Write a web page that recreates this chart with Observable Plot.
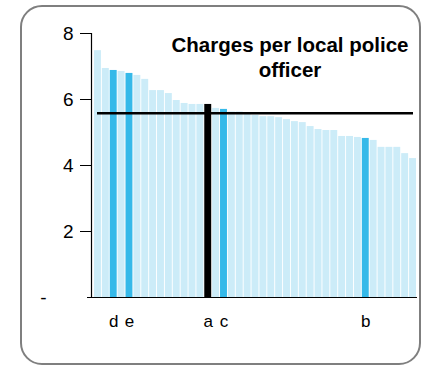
<!DOCTYPE html>
<html>
<head>
<meta charset="utf-8">
<script src="https://cdn.jsdelivr.net/npm/d3@7"></script>
<script src="https://cdn.jsdelivr.net/npm/@observablehq/plot@0.6"></script>
<style>
  html, body { margin: 0; padding: 0; background: #fff; }
  #wrap { position: relative; width: 423px; height: 368px; font-family: "Liberation Sans", Arial, sans-serif; }
  #border { position: absolute; left: 20px; top: 5px; width: 401px; height: 360px; box-sizing: border-box;
            border: 2px solid #7f7f7f; border-radius: 22px; }
  #chart { position: absolute; left: 0; top: 0; }
</style>
</head>
<body>
<div id="wrap"><div id="border"></div><div id="chart"></div></div>
<script>
const title = "Charges per local police\nofficer";
const values = [7.48, 6.94, 6.88, 6.85, 6.79, 6.73, 6.61, 6.27, 6.27, 6.18,
                5.97, 5.88, 5.85, 5.85, 5.85, 5.73, 5.70, 5.62, 5.62, 5.60,
                5.52, 5.48, 5.48, 5.45, 5.39, 5.33, 5.30, 5.18, 5.09, 5.06,
                5.06, 4.88, 4.88, 4.85, 4.82, 4.76, 4.55, 4.55, 4.55, 4.36,
                4.21];
const labels = ["", "", "d", "", "e", "", "", "", "", "",
                "", "", "", "", "a", "", "c", "", "", "",
                "", "", "", "", "", "", "", "", "", "",
                "", "", "", "", "b", "", "", "", "", "",
                ""];
const average = 5.58;
const yTicks = [2, 4, 6, 8];

const kinds = labels.map(l => l === "a" ? "selected" : (l ? "highlight" : "other"));
const data = values.map((v, i) => ({i, v, lab: labels[i], kind: kinds[i]}));

const chart = Plot.plot({
  width: 423,
  height: 368,
  marginTop: 33,
  marginBottom: 71,
  marginLeft: 91,
  marginRight: 7,
  style: {fontFamily: "'Liberation Sans', Arial, sans-serif", background: "transparent", color: "#000"},
  x: {type: "band", domain: d3.range(values.length), range: [94, 416], paddingInner: 0.12, paddingOuter: 0, axis: null},
  y: {domain: [0, 8], axis: null},
  color: {domain: ["other", "highlight", "selected"], range: ["#ccecf8", "#35b9e9", "#000000"]},
  marks: [
    Plot.barY(data, {x: "i", y: "v", fill: "kind"}),
    Plot.ruleY([average], {stroke: "#000", strokeWidth: 2.5, insetLeft: 6, insetRight: 3}),
    Plot.ruleY([0], {stroke: "#000", strokeWidth: 1.2, insetLeft: -4, insetRight: -1}),
    Plot.frame({anchor: "left", stroke: "#000", strokeWidth: 1.2}),
    Plot.axisY({ticks: yTicks, tickSize: 11, tickPadding: 7, fontSize: 19, stroke: "#000", label: null}),
    Plot.axisY({ticks: [0], tickSize: 4, tickPadding: 41, fontSize: 19, tickFormat: () => "-", label: null}),
    Plot.text(data.filter(d => d.lab), {x: "i", text: "lab", frameAnchor: "bottom", dy: 29, fontSize: 17, fill: "#000"}),
    Plot.text([title], {frameAnchor: "top", dx: 36, dy: 1, lineAnchor: "top", fontSize: 20.5, fontWeight: "bold", lineHeight: 1.2, fill: "#000"})
  ]
});
document.getElementById("chart").appendChild(chart);
</script>
</body>
</html>
